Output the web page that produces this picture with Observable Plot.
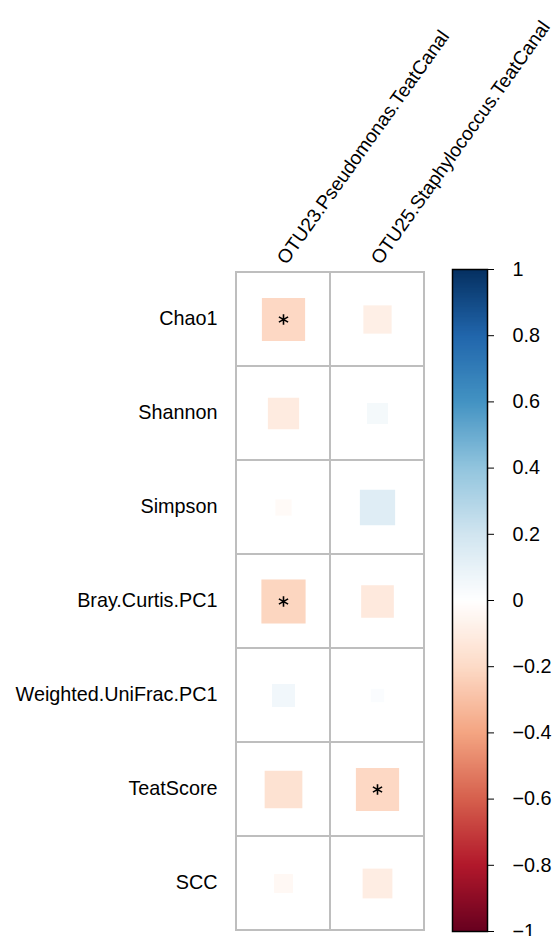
<!DOCTYPE html>
<html>
<head>
<meta charset="utf-8">
<script src="https://cdn.jsdelivr.net/npm/d3@7"></script>
<script src="https://cdn.jsdelivr.net/npm/@observablehq/plot@0.6"></script>
<style>
  html, body { margin: 0; padding: 0; background: #fff; }
  #chart { position: relative; width: 557px; height: 936px; }
  #chart svg { position: absolute; left: 0; top: 0; }
</style>
</head>
<body>
<div id="chart"></div>
<script>
// Row variables (top to bottom)
const rows = ["Chao1", "Shannon", "Simpson", "Bray.Curtis.PC1", "Weighted.UniFrac.PC1", "TeatScore", "SCC"];
// Column OTUs
const cols = ["OTU23.Pseudomonas.TeatCanal", "OTU25.Staphylococcus.TeatCanal"];
// Correlations
const otu23 = [-0.21, -0.11, -0.03, -0.22, 0.06, -0.16, -0.04];
const otu25 = [-0.09, 0.05, 0.14, -0.12, 0.02, -0.21, -0.10];
// Significance marks
const sig23 = [true, false, false, true, false, false, false];
const sig25 = [false, false, false, false, false, true, false];
// Colour bar ticks
const legendTicks = [-1, -0.8, -0.6, -0.4, -0.2, 0, 0.2, 0.4, 0.6, 0.8, 1];
// corrplot RdBu palette
const palette = ["#67001F", "#B2182B", "#D6604D", "#F4A582", "#FDDBC7", "#FFFFFF", "#D1E5F0", "#92C5DE", "#4393C3", "#2166AC", "#053061"];

const data = [];
rows.forEach((row, i) => {
  data.push({row, col: cols[0], r: otu23[i], sig: sig23[i]});
  data.push({row, col: cols[1], r: otu25[i], sig: sig25[i]});
});

const font = "'Liberation Sans', Arial, Helvetica, sans-serif";
const fs = 19.8;
const colorOpts = {type: "linear", domain: legendTicks, range: palette, interpolate: "rgb", clamp: true};
const cellSize = (931 - 271) / 7;

const main = Plot.plot({
  width: 557,
  height: 936,
  marginLeft: 236,
  marginRight: 133,
  marginTop: 271,
  marginBottom: 5,
  style: {fontFamily: font, fontSize: fs + "px", background: "transparent"},
  x: {domain: cols, padding: 0, axis: null},
  y: {domain: rows, padding: 0, axis: null},
  color: colorOpts,
  r: {type: "sqrt", domain: [0, 1], range: [0, cellSize / Math.sqrt(Math.PI)]},
  marks: [
    Plot.dot(data, {x: "col", y: "row", symbol: "square", r: d => Math.abs(d.r), fill: "r", stroke: null}),
    Plot.cell(data, {x: "col", y: "row", fill: "none", stroke: "#bebebe", strokeWidth: 2, inset: 0}),
    Plot.dot(data.filter(d => d.sig), {x: "col", y: "row", symbol: "asterisk", r: 5, stroke: "black", strokeWidth: 1.6}),
    Plot.axisY({tickSize: 0, tickPadding: 19, fontSize: fs, label: null, dy: -1}),
    Plot.text(cols, {x: d => d, frameAnchor: "top", text: d => d, rotate: -54.5, textAnchor: "start", lineAnchor: "bottom", dx: 3, dy: -6, fontSize: 19.2, fill: "black"})
  ]
});

const legend = Plot.plot({
  width: 557,
  height: 936,
  marginLeft: 452,
  marginRight: 70,
  marginTop: 269,
  marginBottom: 5,
  style: {fontFamily: font, fontSize: fs + "px", background: "transparent"},
  x: {domain: [0, 1], axis: null},
  y: {domain: [-1, 1], axis: null},
  color: colorOpts,
  marks: [
    Plot.raster({x1: 0, x2: 1, y1: -1, y2: 1, width: 1, height: 400, fill: (x, y) => y}),
    Plot.frame({stroke: "black", strokeWidth: 1.5}),
    Plot.axisY({anchor: "right", ticks: legendTicks, tickSize: 6, tickPadding: 19, fontSize: fs, label: null,
      tickFormat: d => d === 0 ? "0" : (d < 0 ? "\u2212" : "") + d3.format("~g")(Math.abs(d))})
  ]
});

const el = document.getElementById("chart");
el.appendChild(main);
el.appendChild(legend);
</script>
</body>
</html>
